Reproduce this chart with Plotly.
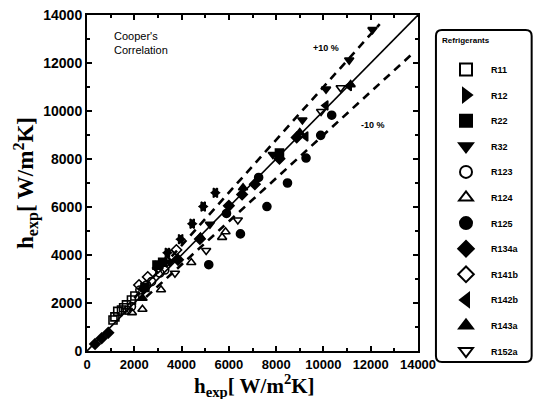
import plotly.graph_objects as go

# Refrigerant data: predicted vs measured boiling heat transfer coefficient [W/m2K]
r11_x = [1100, 1180, 1300, 1460, 1550, 1670, 1880, 2025]
r11_y = [1290, 1420, 1650, 1710, 1800, 1920, 2125, 2290]

r12_x = [3400, 3960, 4450, 4915, 5430, 2950]
r12_y = [4090, 4660, 5305, 6020, 6590, 3550]

r22_x = [2960, 3200, 2450, 8140]
r22_y = [3580, 3700, 2650, 8250]

r32_x = [12075, 11090, 10110, 9110, 7860, 5200, 3500]
r32_y = [13390, 12120, 10910, 9625, 8185, 5280, 3700]

r123_x = [1880, 2235, 2520, 2730, 3080, 3290, 1700]
r123_y = [1850, 2540, 2750, 2890, 3250, 3375, 1700]

r124_x = [5715, 5860, 4410, 3130, 2345, 1900]
r124_y = [4735, 4970, 3690, 2550, 1740, 1600]

r125_x = [10350, 9885, 9265, 8480, 7610, 6490, 5150, 7260, 5900]
r125_y = [9825, 8985, 8040, 7000, 6020, 4880, 3595, 7230, 5730]

r134a_x = [340, 620, 900, 8870, 8140, 6560, 4775, 6000, 3850, 2400, 7100]
r134a_y = [290, 530, 760, 8900, 8015, 6520, 4665, 6050, 3800, 2600, 6950]

r141b_x = [2570, 2995, 3360, 3570, 3780, 2200]
r141b_y = [3085, 3460, 3720, 4000, 4210, 2750]

r142b_x = [3400, 3960, 4450, 4915, 5430, 11090, 9250, 10100]
r142b_y = [4090, 4660, 5305, 6020, 6590, 11040, 8940, 10230]

r143a_x = [2350, 4800, 9000, 6600, 11150]
r143a_y = [2200, 4750, 9100, 6800, 11100]

r152a_x = [10730, 9900, 6380, 5040, 3720]
r152a_y = [10966, 9980, 5460, 4190, 3240]

series = [
    ("R11", r11_x, r11_y, "square-open"),
    ("R12", r12_x, r12_y, "triangle-right"),
    ("R22", r22_x, r22_y, "square"),
    ("R32", r32_x, r32_y, "triangle-down"),
    ("R123", r123_x, r123_y, "circle-open"),
    ("R124", r124_x, r124_y, "triangle-up-open"),
    ("R125", r125_x, r125_y, "circle"),
    ("R134a", r134a_x, r134a_y, "diamond"),
    ("R141b", r141b_x, r141b_y, "diamond-open"),
    ("R142b", r142b_x, r142b_y, "triangle-left"),
    ("R143a", r143a_x, r143a_y, "triangle-up"),
    ("R152a", r152a_x, r152a_y, "triangle-down-open"),
]

# Reference lines: perfect agreement and +/-10 % bands
diag = [0, 14000]
plus_x = [2000, 12380]
minus_x = [2500, 13700]

fig = go.Figure()

fig.add_trace(go.Scatter(x=diag, y=diag, mode="lines",
                         line=dict(color="black", width=1.6), showlegend=False))
fig.add_trace(go.Scatter(x=plus_x, y=[v * 1.1 for v in plus_x], mode="lines",
                         line=dict(color="black", width=2.6, dash="8px,6px"), showlegend=False))
fig.add_trace(go.Scatter(x=minus_x, y=[v * 0.9 for v in minus_x], mode="lines",
                         line=dict(color="black", width=2.6, dash="8px,6px"), showlegend=False))

for name, xs, ys, sym in series:
    fig.add_trace(go.Scatter(
        x=xs, y=ys, mode="markers", name=name, legendgroup=name,
        marker=dict(symbol=sym, size=8, color="black",
                    line=dict(color="black", width=1.6)),
    ))

axis_common = dict(
    range=[0, 14000], dtick=2000, tick0=0,
    ticks="inside", ticklen=5, tickwidth=1.5, tickcolor="black",
    minor=dict(dtick=1000, ticks="inside", ticklen=3, tickcolor="black"),
    showline=True, linecolor="black", linewidth=2, mirror="ticks",
    showgrid=False, zeroline=False,
    tickformat="d", automargin=False,
)

axis_title = "<b>h<sub>exp</sub>[ W/m<sup>2</sup>K]</b>"
fig.update_xaxes(**axis_common,
                 tickfont=dict(family="Liberation Sans", size=13, color="black", weight="bold"))
fig.update_yaxes(**axis_common,
                 tickfont=dict(family="Liberation Sans", size=14, color="black", weight="bold"),
                 title=dict(text=axis_title, font=dict(family="Liberation Serif", size=23,
                                                       color="black"), standoff=3))

# x-axis title placed just under the tick labels
fig.add_annotation(x=(255 - 87) / 332, y=(351 - 385) / 336, xref="paper", yref="paper",
                   text=axis_title, showarrow=False, xanchor="center", yanchor="middle",
                   font=dict(family="Liberation Serif", size=21, color="black"))

ann_font = dict(family="Liberation Sans", size=11, color="black")
fig.add_annotation(x=1050, y=12850, xref="x", yref="y", text="Cooper's<br>Correlation",
                   showarrow=False, xanchor="left", yanchor="middle", align="left",
                   font=ann_font)
fig.add_annotation(x=10120, y=12625, xref="x", yref="y", text="<b>+10 %</b>",
                   showarrow=False, font=dict(family="Liberation Sans", size=9, color="black"))
fig.add_annotation(x=12100, y=9420, xref="x", yref="y", text="<b>-10 %</b>",
                   showarrow=False, font=dict(family="Liberation Sans", size=9, color="black"))

# Rounded frame around the legend
x0, x1 = (437 - 87) / 332, (533 - 87) / 332
y0, y1 = (351 - 362) / 336, (351 - 30) / 336
rx, ry = 6 / 332, 6 / 336
path = (f"M {x0 + rx},{y1} L {x1 - rx},{y1} Q {x1},{y1} {x1},{y1 - ry} "
        f"L {x1},{y0 + ry} Q {x1},{y0} {x1 - rx},{y0} "
        f"L {x0 + rx},{y0} Q {x0},{y0} {x0},{y0 + ry} "
        f"L {x0},{y1 - ry} Q {x0},{y1} {x0 + rx},{y1} Z")
fig.add_shape(type="path", path=path, xref="paper", yref="paper",
              line=dict(color="black", width=2))

fig.add_annotation(x=(441 - 87) / 332, y=(351 - 41) / 336, xref="paper", yref="paper",
                   text="<b>Refrigerants</b>", showarrow=False,
                   xanchor="left", yanchor="middle",
                   font=dict(family="Liberation Sans", size=8, color="black"))

fig.update_layout(
    width=535, height=399,
    margin=dict(l=87, r=116, t=15, b=48),
    plot_bgcolor="white", paper_bgcolor="white",
    legend=dict(
        x=x0 + 4 / 332, y=(351 - 55) / 336, xanchor="left", yanchor="top",
        bgcolor="rgba(0,0,0,0)", borderwidth=0,
        font=dict(family="Liberation Sans", size=9, color="black", weight="bold"),
        itemsizing="constant", tracegroupgap=6.6, itemwidth=40,
    ),
)

fig.write_html("out.html")
